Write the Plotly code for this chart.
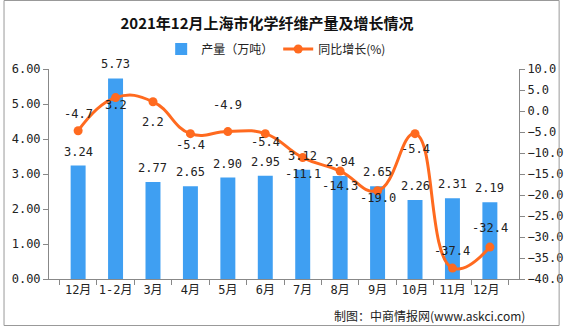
import plotly.graph_objects as go

categories = ["12月", "1-2月", "3月", "4月", "5月", "6月", "7月", "8月", "9月", "10月", "11月", "12月 "]
output = [3.24, 5.73, 2.77, 2.65, 2.90, 2.95, 3.12, 2.94, 2.65, 2.26, 2.31, 2.19]
growth = [-4.7, 3.2, 2.2, -5.4, -4.9, -5.4, -11.1, -14.3, -19.0, -5.4, -37.4, -32.4]
# vertical label offsets (px) for the growth labels, relative to their points
growth_label_shift = [17, -7, -20, -11, 27, -8, -16, -15, -7, -15, 17, 19]

W, H = 576, 327
L, R, T, B = 47, 43, 69, 48
pw, ph = W - L - R, H - T - B

mono = "DejaVu Sans Mono, Noto Sans CJK SC"
cjk = "Noto Sans CJK SC"

fig = go.Figure()
fig.add_trace(go.Bar(
    x=categories, y=output, name="产量（万吨）",
    marker=dict(color="#3F9FF2", line=dict(width=0)),
    yaxis="y",
))
fig.add_trace(go.Scatter(
    x=categories, y=growth, name="同比增长(%)", yaxis="y2",
    mode="lines+markers", line=dict(color="#FF6A1F", width=3, shape="spline", smoothing=1.3),
    marker=dict(size=9, color="#FF6A1F"),
    cliponaxis=False,
))

annotations = []
for c, v in zip(categories, output):
    annotations.append(dict(x=c, y=v, xref="x", yref="y", text=f"{v:.2f}", showarrow=False,
                            yshift=14, yanchor="middle",
                            font=dict(family=mono, size=12, color="#222")))
for c, v, s in zip(categories, growth, growth_label_shift):
    annotations.append(dict(x=c, y=v, xref="x", yref="y2", text=f"{v:.1f}", showarrow=False,
                            yshift=s, yanchor="middle",
                            font=dict(family=mono, size=12, color="#222")))
annotations.append(dict(text="制图：中商情报网(www.askci.com)", xref="paper", yref="paper",
                        x=1 + (541 - L - pw) / pw, xanchor="right", y=-(315 - T - ph) / ph, yanchor="middle",
                        showarrow=False, font=dict(family=cjk, size=12, color="#222")))

fig.update_layout(
    width=W, height=H, margin=dict(l=L, r=R, t=T, b=B),
    paper_bgcolor="white", plot_bgcolor="white",
    bargap=0.6, showlegend=True,
    title=dict(text="<b>2021年12月上海市化学纤维产量及增长情况</b>",
               x=267 / W, xanchor="center", y=1 - 24 / H, yanchor="middle",
               font=dict(family=cjk, size=15, color="#111")),
    legend=dict(orientation="h", x=(163 - L) / pw, xanchor="left", y=1 + (T - 49) / ph, yanchor="middle",
                font=dict(family=cjk, size=12, color="#222"), itemwidth=30, bgcolor="rgba(0,0,0,0)"),
    xaxis=dict(type="category", showline=True, linecolor="#888", linewidth=1, ticks="outside",
               tickson="boundaries", ticklen=5, tickcolor="#888", showgrid=False, tickangle=0,
               tickfont=dict(family=mono, size=12, color="#222")),
    yaxis=dict(range=[0, 6], dtick=1, tickformat=".2f", showline=True, linecolor="#888", linewidth=1,
               ticks="outside", ticklen=5, tickcolor="#888", showgrid=False, zeroline=False,
               tickfont=dict(family=mono, size=12, color="#222")),
    yaxis2=dict(range=[-40, 10], dtick=5, tickformat=".1f", overlaying="y", side="right",
                showline=True, linecolor="#888", linewidth=1, ticks="outside", ticklen=5,
                tickcolor="#888", showgrid=False, zeroline=False,
                tickfont=dict(family=mono, size=12, color="#222")),
    shapes=[dict(type="rect", xref="paper", yref="paper",
                 x0=-(L - 0.5) / pw, x1=1 + (R - 1.5) / pw, y0=-(B - 1.5) / ph, y1=1 + (T - 0.5) / ph,
                 line=dict(color="#999", width=1), fillcolor="rgba(0,0,0,0)")],
    annotations=annotations,
)

fig.write_html("out.html")
